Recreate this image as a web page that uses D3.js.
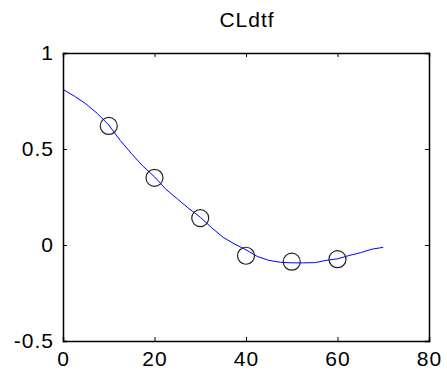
<!DOCTYPE html>
<html>
<head>
<meta charset="utf-8">
<script src="https://cdn.jsdelivr.net/npm/d3@7"></script>
<style>
  body { margin: 0; background: #fff; }
  text { font-family: "Liberation Sans", Arial, sans-serif; fill: #000; letter-spacing: 1px; }
</style>
</head>
<body>
<script>
// curve samples (x, CLdtf)
var lineX = [0, 2.5, 5, 7.5, 10, 12.5, 15, 17.5, 20, 22.5, 25, 27.5, 30, 32.5, 35,
             37.5, 40, 42.5, 45, 47.5, 50, 52.5, 55, 57.5, 60, 62.5, 65, 67.5, 70];
var lineY = [0.81, 0.775, 0.735, 0.685, 0.625, 0.545, 0.475, 0.41, 0.355, 0.29, 0.24, 0.19, 0.145, 0.09, 0.04,
             0.005, -0.025, -0.06, -0.08, -0.09, -0.093, -0.093, -0.092, -0.08, -0.072, -0.055, -0.04, -0.022, -0.012];
// circle markers
var markX = [10, 20, 30, 40, 50, 60];
var markY = [0.62, 0.35, 0.14, -0.056, -0.087, -0.074];
var xTicks = [0, 20, 40, 60, 80];
var yTicks = [-0.5, 0, 0.5, 1];
var title = 'CLdtf';

var W = 447, H = 374;
var margin = { left: 63, right: 18, top: 53, bottom: 33 };
var iw = W - margin.left - margin.right, ih = H - margin.top - margin.bottom;

var svg = d3.select('body').append('svg')
    .attr('width', W)
    .attr('height', H);

var x = d3.scaleLinear().domain([0, 80]).range([0, iw]);
var y = d3.scaleLinear().domain([-0.5, 1]).range([ih, 0]);

var g = svg.append('g').attr('transform', 'translate(' + margin.left + ',' + margin.top + ')');

var fmt = function(d) { return String(d); };

// bottom / left axes with inward ticks
g.append('g').attr('transform', 'translate(0,' + ih + ')')
    .call(d3.axisBottom(x).tickValues(xTicks).tickSize(-4).tickPadding(10).tickFormat(fmt));
g.append('g')
    .call(d3.axisLeft(y).tickValues(yTicks).tickSize(-4).tickPadding(9).tickFormat(fmt));
// top / right: ticks only
g.append('g')
    .call(d3.axisTop(x).tickValues(xTicks).tickSize(-4).tickFormat(''));
g.append('g').attr('transform', 'translate(' + iw + ',0)')
    .call(d3.axisRight(y).tickValues(yTicks).tickSize(-4).tickFormat(''));

g.selectAll('.domain').attr('stroke', '#000').attr('stroke-width', 1.5);
g.selectAll('.tick line').attr('stroke', '#000');
g.selectAll('.tick text').style('font-size', '21px').attr('fill', '#000');

var line = d3.line()
    .x(function(d, i) { return x(lineX[i]); })
    .y(function(d) { return y(d); });

g.append('path')
    .datum(lineY)
    .attr('fill', 'none')
    .attr('stroke', '#0000ff')
    .attr('stroke-width', 1)
    .attr('d', line);

g.selectAll('.mark')
    .data(markY)
    .enter()
        .append('circle')
        .attr('class', 'mark')
        .attr('cx', function(d, i) { return x(markX[i]); })
        .attr('cy', function(d) { return y(d); })
        .attr('r', 8.5)
        .attr('fill', 'none')
        .attr('stroke', '#222')
        .attr('stroke-width', 1.2);

svg.append('text')
    .attr('x', margin.left + iw / 2 + 1)
    .attr('y', 27)
    .attr('text-anchor', 'middle')
    .style('font-size', '21px')
    .text(title);
</script>
</body>
</html>
